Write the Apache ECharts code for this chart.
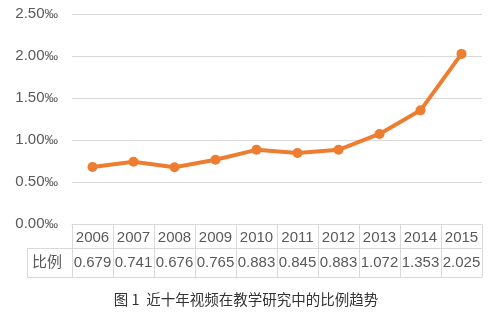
<!DOCTYPE html>
<html><head><meta charset="utf-8">
<script src="https://cdn.jsdelivr.net/npm/echarts@6/dist/echarts.min.js"></script>
<style>html,body{margin:0;padding:0;background:#fff}#c{width:492px;height:316px}</style>
</head><body><div id="c"></div>
<script>
const years = ['2006','2007','2008','2009','2010','2011','2012','2013','2014','2015'];
const ratios = [0.679,0.741,0.676,0.765,0.883,0.845,0.883,1.072,1.353,2.025];
const ratioLabels = ['0.679','0.741','0.676','0.765','0.883','0.845','0.883','1.072','1.353','2.025'];
const rowHeader = '比例';
const title = '图 1  近十年视频在教学研究中的比例趋势';

const grid = '#d9d9d9';
const txt = '#595959';
const font = 'Liberation Sans, Arial, sans-serif';
const chart = echarts.init(document.getElementById('c'));
chart.setOption({
  animation:false,
  grid:{left:72,right:10,top:14,bottom:92},
  xAxis:[
    {type:'category',data:years,position:'bottom',
     axisLine:{show:true,lineStyle:{color:grid,width:1}},
     axisTick:{show:true,interval:0,length:53,lineStyle:{color:grid}},
     axisLabel:{interval:0,hideOverlap:false,color:txt,fontSize:15,fontFamily:font,margin:6}},
    {type:'category',data:ratioLabels,position:'bottom',offset:24,
     axisLine:{show:true,lineStyle:{color:grid}},
     axisTick:{show:false},
     axisLabel:{interval:0,hideOverlap:false,color:txt,fontSize:15,fontFamily:font,margin:7}},
    {type:'category',data:years,position:'bottom',offset:53,
     axisLine:{show:true,lineStyle:{color:grid}},
     axisTick:{show:false},axisLabel:{show:false}}
  ],
  yAxis:{type:'value',min:0,max:2.5,interval:0.5,
    axisLine:{show:false},axisTick:{show:false},
    splitLine:{lineStyle:{color:grid,width:1}},
    axisLabel:{color:txt,fontSize:15,fontFamily:font,margin:14,
      formatter:v=>'{n|'+v.toFixed(2)+'}{p|‰}',
      rich:{n:{color:txt,fontSize:15,fontFamily:font},p:{color:txt,fontSize:13.5,fontFamily:font}}}},
  series:[{type:'line',data:ratios,xAxisIndex:0,
    lineStyle:{color:'#ED7D31',width:4},
    itemStyle:{color:'#ED7D31'},
    symbol:'circle',symbolSize:10}],
  graphic:[
    {type:'line',shape:{x1:27,y1:248.5,x2:72,y2:248.5},style:{stroke:grid,lineWidth:1}},
    {type:'line',shape:{x1:27,y1:277.5,x2:72,y2:277.5},style:{stroke:grid,lineWidth:1}},
    {type:'line',shape:{x1:27.5,y1:248,x2:27.5,y2:278},style:{stroke:grid,lineWidth:1}},
    {type:'text',left:32,top:254,style:{text:rowHeader,fill:txt,font:'15px "Noto Sans CJK SC", sans-serif'}},
    {type:'text',left:'center',top:292,style:{text:title,fill:'#333',font:'14.5px "Noto Sans CJK SC", sans-serif'}}
  ]
});
</script></body></html>
